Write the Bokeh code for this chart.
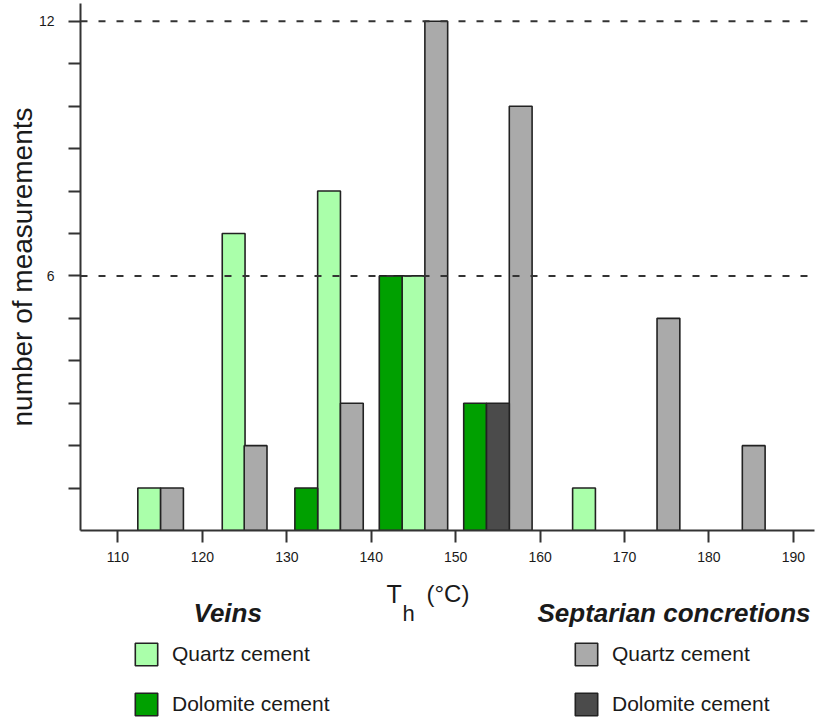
from bokeh.plotting import figure
from bokeh.layouts import column
from bokeh.models import (FixedTicker, Span, Label, Legend, LegendItem, Range1d)
from bokeh.embed import file_html
from bokeh.resources import INLINE

# ---- data ----
veins_quartz_t = [113.7, 123.7, 135.0, 145.0, 165.2]
veins_quartz_n = [1, 7, 8, 6, 1]
veins_dolo_t = [132.3, 142.3, 152.3]
veins_dolo_n = [1, 6, 3]
sept_quartz_t = [116.4, 126.3, 137.7, 147.7, 157.7, 175.2, 185.3]
sept_quartz_n = [1, 2, 3, 12, 10, 5, 2]
sept_dolo_t = [155.0]
sept_dolo_n = [3]
bar_w = 2.7

x_ticks = [110, 120, 130, 140, 150, 160, 170, 180, 190]
y_ticks = list(range(1, 13))
y_labelled = [6, 12]
ref_lines = [6, 12]

series_labels = ["Quartz cement", "Dolomite cement"]
group_titles = ["Veins", "Septarian concretions"]

FONT = "Liberation Sans"
TXT = "#1a1a1a"
AX = "#333333"
C_VQ, C_VD, C_SQ, C_SD = "#aaffaa", "#00a000", "#aaaaaa", "#4b4b4b"
BAR_LINE = "#222222"

# ---------------- chart ----------------
p = figure(width=829, height=565, output_backend="svg", toolbar_location=None,
           x_range=Range1d(105.56, 192.5), y_range=Range1d(0, 12.42),
           min_border_left=80, min_border_right=15, min_border_top=3,
           min_border_bottom=35)
p.outline_line_color = None
p.xgrid.visible = False
p.ygrid.visible = False

p.xaxis.ticker = FixedTicker(ticks=x_ticks)
p.yaxis.ticker = FixedTicker(ticks=y_ticks)
p.yaxis.major_label_overrides = {t: (str(t) if t in y_labelled else "") for t in y_ticks}
for ax in (p.xaxis, p.yaxis):
    ax.axis_line_color = AX
    ax.axis_line_width = 2
    ax.major_tick_line_color = AX
    ax.major_tick_line_width = 2
    ax.major_tick_in = 0
    ax.major_tick_out = 12
    ax.minor_tick_line_color = None
    ax.major_label_text_font = FONT
    ax.major_label_text_color = TXT
p.xaxis.major_label_text_font_size = "14px"
p.xaxis.major_label_standoff = 9
p.yaxis.major_label_text_font_size = "14px"
p.yaxis.major_label_standoff = 14
p.yaxis.axis_label = "number of measurements"
p.yaxis.axis_label_text_font = FONT
p.yaxis.axis_label_text_font_size = "28px"
p.yaxis.axis_label_text_font_style = "normal"
p.yaxis.axis_label_text_color = TXT
p.yaxis.axis_label_standoff = -2

for v in ref_lines:
    p.add_layout(Span(location=v, dimension="width", line_color=AX,
                      line_width=2, line_dash="7 11"))

common = dict(width=bar_w, bottom=0, line_color=BAR_LINE, line_width=1.6)
p.vbar(x=veins_quartz_t, top=veins_quartz_n, fill_color=C_VQ, **common)
p.vbar(x=veins_dolo_t, top=veins_dolo_n, fill_color=C_VD, **common)
p.vbar(x=sept_quartz_t, top=sept_quartz_n, fill_color=C_SQ, **common)
p.vbar(x=sept_dolo_t, top=sept_dolo_n, fill_color=C_SD, **common)

# ---------------- lower panel: axis title and legends ----------------
H2 = 158
q = figure(width=829, height=H2, output_backend="svg", toolbar_location=None,
           x_axis_type=None, y_axis_type=None,
           x_range=Range1d(0, 734), y_range=Range1d(0, H2),
           min_border_left=80, min_border_right=15, min_border_top=0,
           min_border_bottom=0)
q.outline_line_color = None
q.xgrid.visible = False
q.ygrid.visible = False

def lab(x, y, text, size, style="normal"):
    q.add_layout(Label(x=x, y=y, x_units="screen", y_units="screen", text=text,
                       text_font=FONT, text_font_size=size, text_font_style=style,
                       text_color=TXT, text_baseline="alphabetic"))

# x-axis title T_h (°C)  (positions relative to the lower panel's frame)
lab(306, 130, "T", "25px")
lab(322, 110, "h", "22px")
lab(346, 130, "(°C)", "24px")
# group titles
lab(113, 111, group_titles[0], "26px", "bold italic")
lab(457, 111, group_titles[1], "26px", "bold italic")

# hidden renderers that only supply the legend swatches
sw = dict(width=bar_w, bottom=0, line_color=BAR_LINE, line_width=1.6, visible=False)
s_vq = q.vbar(x=veins_quartz_t, top=veins_quartz_n, fill_color=C_VQ, **sw)
s_vd = q.vbar(x=veins_dolo_t, top=veins_dolo_n, fill_color=C_VD, **sw)
s_sq = q.vbar(x=sept_quartz_t, top=sept_quartz_n, fill_color=C_SQ, **sw)
s_sd = q.vbar(x=sept_dolo_t, top=sept_dolo_n, fill_color=C_SD, **sw)

def make_legend(rs, loc):
    return Legend(items=[LegendItem(label=series_labels[i], renderers=[r]) for i, r in enumerate(rs)],
                  location=loc, orientation="vertical",
                  border_line_color=None, background_fill_alpha=0,
                  padding=0, margin=0, spacing=22, glyph_width=28, glyph_height=28,
                  label_standoff=12, label_text_font=FONT, label_text_font_size="21px",
                  label_text_color=TXT)

q.add_layout(make_legend([s_vq, s_vd], (52, 5)))
q.add_layout(make_legend([s_sq, s_sd], (492, 5)))

layout = column(p, q, spacing=0)
open("out.html", "w").write(file_html(layout, INLINE))
